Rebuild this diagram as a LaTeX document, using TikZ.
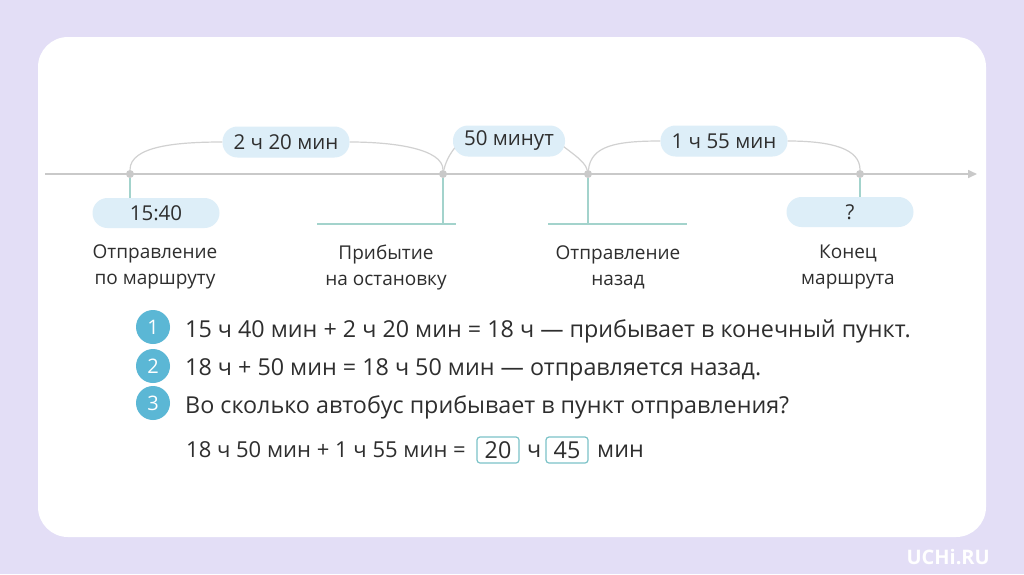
\documentclass[tikz,border=0pt]{standalone}
\usepackage{fontspec}
\setmainfont{Open Sans}
\usetikzlibrary{arrows.meta,calc}
\pgfdeclarelayer{bg}
\pgfdeclarelayer{mid}
\pgfsetlayers{bg,mid,main}
\definecolor{bgl}{HTML}{E3DEF6}
\definecolor{axisg}{HTML}{C9C9C9}
\definecolor{pillb}{HTML}{DDEEF8}
\definecolor{tealg}{HTML}{A3D3CC}
\definecolor{txt}{HTML}{2E2E2E}
\definecolor{numc}{HTML}{5BB7D5}
\definecolor{boxc}{HTML}{7CC3C8}
\tikzset{
  pill/.style={fill=pillb, rounded corners=15pt, minimum width=127pt, minimum height=31pt, inner sep=0pt, text=txt, font=\fontsize{20.5}{24}\selectfont},
  dotn/.style={circle, fill=axisg, inner sep=0pt, minimum size=8pt},
  arcline/.style={draw=axisg!85, line width=1.2pt},
  tealline/.style={draw=tealg, line width=1.4pt},
  lbl/.style={text=txt, align=center, font=\fontsize{19}{26}\selectfont},
  numcirc/.style={circle, fill=numc, minimum size=34pt, inner sep=0pt, text=white, font=\fontsize{20}{22}\selectfont},
  eq/.style={text=txt, anchor=base west, inner sep=0pt, font=\fontsize{23.3}{26}\selectfont},
  ansbox/.style={draw=boxc, line width=1.2pt, rounded corners=3pt, minimum width=42pt, minimum height=26pt, inner sep=0pt, text=txt, font=\fontsize{23.3}{26}\selectfont}
}
\begin{document}
\begin{tikzpicture}[x=1pt,y=-1pt]
\useasboundingbox (0,0) rectangle (1024,574);
\begin{pgfonlayer}{bg}
\fill[bgl] (0,0) rectangle (1024,574);
\fill[white, rounded corners=30pt] (38,37) rectangle (986,537);
\end{pgfonlayer}
% axis
\coordinate (ax0) at (45,174);
\coordinate (ax1) at (977,174);
\begin{pgfonlayer}{mid}
\draw[draw=axisg, line width=1.6pt, -{Triangle[length=9pt,width=8pt]}] (ax0) -- (ax1);
\end{pgfonlayer}
% dots
\node[dotn] (d1) at (130,174) {};
\node[dotn] (d2) at (443,174) {};
\node[dotn] (d3) at (588,174) {};
\node[dotn] (d4) at (860,174) {};
% top pills
\node[pill] (p1) at (286,142) {2 ч 20 мин};
\node[pill, minimum width=112pt] (p2) at (509,141) {50 минут};
\node[pill] (p3) at (724,141) {1 ч 55 мин};
% arcs (under the pills)
\begin{pgfonlayer}{mid}
\draw[arcline] (d1) .. controls +(0,-28) and +(-45,0) .. (p1.west);
\draw[arcline] (p1.east) .. controls +(45,0) and +(0,-25) .. (d2);
\draw[arcline] (d2) .. controls +(3,-14) and +(-9,9) .. ($(p2.west)+(8,0)$);
\draw[arcline] ($(p2.east)+(-8,0)$) .. controls +(9,9) and +(-3,-14) .. (d3);
\draw[arcline] (d3) .. controls +(3,-28) and +(-45,0) .. (p3.west);
\draw[arcline] (p3.east) .. controls +(45,0) and +(0,-25) .. (d4);
\end{pgfonlayer}
% bottom pills and bars
\node[pill, minimum height=30pt] (q1) at (156,213) {15:40};
\node[pill, minimum height=30pt] (q4) at (850,212) {?};
\coordinate (b2l) at (317,224);
\coordinate (b2r) at (456,224);
\coordinate (b2m) at (443,224);
\coordinate (b3l) at (548,224);
\coordinate (b3r) at (687,224);
\coordinate (b3m) at (588,224);
\draw[tealline] (d1) -- (q1.north -| d1);
\draw[tealline] (d4) -- (q4.north -| d4);
\draw[tealline] (d2) -- (b2m);
\draw[tealline] (b2l) -- (b2r);
\draw[tealline] (d3) -- (b3m);
\draw[tealline] (b3l) -- (b3r);
% labels
\node[lbl] (l1) at (155,267) {Отправление\\по маршруту};
\node[lbl] (l2) at (386,267) {Прибытие\\на остановку};
\node[lbl] (l3) at (618,267) {Отправление\\назад};
\node[lbl] (l4) at (848,267) {Конец\\маршрута};
% numbered steps
\node[numcirc] (n1) at (153,327) {1};
\node[numcirc] (n2) at (153,366) {2};
\node[numcirc] (n3) at (153,403) {3};
\node[eq] (e1) at (185,337) {15 ч 40 мин + 2 ч 20 мин = 18 ч — прибывает в конечный пункт.};
\node[eq] (e2) at (185,375) {18 ч + 50 мин = 18 ч 50 мин — отправляется назад.};
\node[eq] (e3) at (185,413) {Во сколько автобус прибывает в пункт отправления?};
\node[eq, font=\fontsize{22}{26}\selectfont] (e4) at (186,457) {18 ч 50 мин + 1 ч 55 мин =};
\node[ansbox] (a1) at (498,450) {20};
\node[eq] (e5) at (527,457) {ч};
\node[ansbox] (a2) at (567,450) {45};
\node[eq] (e6) at (597,457) {мин};
% watermark
\node[text=white, font=\fontsize{20}{22}\selectfont\bfseries, anchor=base east, inner sep=0pt] (wm) at (990,564) {UCHi.RU};
\end{tikzpicture}
\end{document}
